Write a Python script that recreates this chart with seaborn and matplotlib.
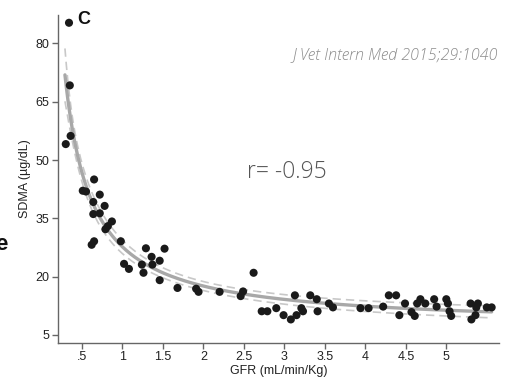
import numpy as np
import pandas as pd
import matplotlib
matplotlib.use('Agg')
import matplotlib.pyplot as plt
import seaborn as sns

# GFR (mL/min/Kg) vs SDMA (ug/dL)
gfr = [0.34, 0.35, 0.36, 0.30, 0.65, 0.51, 0.55, 0.72, 0.64, 0.78, 0.64, 0.72,
       0.87, 0.82, 0.79, 0.65, 0.62, 0.98,
       1.29, 1.52, 1.36, 1.46, 1.37, 1.24, 1.02, 1.08, 1.26, 1.46, 1.68, 1.91,
       1.94, 2.20, 2.49, 2.46, 2.62,
       2.72, 2.79, 2.90, 2.99, 3.08, 3.15, 3.13, 3.21, 3.23, 3.32, 3.40, 3.41,
       3.55, 3.60, 3.94, 4.04,
       4.22, 4.29, 4.38, 4.42, 4.49, 4.57, 4.61, 4.64, 4.68, 4.74, 4.85, 4.88,
       5.00, 5.02, 5.04, 5.06, 5.30, 5.31, 5.36, 5.39, 5.37, 5.50, 5.56]
sdma = [85.3, 69.2, 56.2, 54.1, 45.0, 42.1, 41.9, 41.1, 39.2, 38.2, 36.1, 36.3,
        34.2, 33.0, 32.2, 29.1, 28.2, 29.1,
        27.3, 27.2, 25.1, 24.1, 23.1, 23.1, 23.3, 22.0, 21.0, 19.1, 17.1, 16.9,
        16.1, 16.1, 16.2, 15.0, 21.0,
        11.1, 11.1, 11.9, 10.1, 9.0, 10.1, 15.2, 11.9, 11.1, 15.2, 14.2, 11.1,
        13.1, 12.1, 11.9, 11.9,
        12.3, 15.2, 15.2, 10.1, 13.1, 10.9, 9.9, 13.1, 14.2, 13.1, 14.2, 12.3,
        14.2, 13.1, 11.1, 9.9, 13.1, 9.0, 10.1, 13.1, 12.1, 12.1, 12.1]

xticks = [0.5, 1, 1.5, 2, 2.5, 3, 3.5, 4, 4.5, 5]
xticklabels = ['.5', '1', '1.5', '2', '2.5', '3', '3.5', '4', '4.5', '5']
yticks = [5, 20, 35, 50, 65, 80]

df = pd.DataFrame({'gfr': gfr, 'sdma': sdma})

# fractional polynomial fit (powers -1, -2) with 95% CI of the mean
x = df['gfr'].values
y = df['sdma'].values
def design(v):
    return np.column_stack([np.ones_like(v), 1.0 / v, 1.0 / v ** 2])
X = design(x)
beta, res, _, _ = np.linalg.lstsq(X, y, rcond=None)
n, k = X.shape
s2 = np.sum((y - X @ beta) ** 2) / (n - k)
cov = s2 * np.linalg.inv(X.T @ X)
xg = np.linspace(0.29, x.max(), 300)
Xg = design(xg)
pred = Xg @ beta
se = np.sqrt(np.einsum('ij,jk,ik->i', Xg, cov, Xg))
fit = pd.DataFrame({'gfr': xg, 'fit': pred, 'lo': pred - 1.99 * se, 'hi': pred + 1.99 * se})

sns.set_style('white')
plt.rcParams['font.family'] = ['Liberation Sans', 'DejaVu Sans']

fig = plt.figure(figsize=(5.1, 3.79), dpi=100)
ax = fig.add_axes([0.1137, 0.095, 0.8643, 0.865])

sns.lineplot(data=fit, x='gfr', y='hi', ax=ax, color='#c8c8c8', lw=1.2, ls=(0, (5, 3)))
sns.lineplot(data=fit, x='gfr', y='lo', ax=ax, color='#c8c8c8', lw=1.2, ls=(0, (5, 3)))
sns.lineplot(data=fit, x='gfr', y='fit', ax=ax, color='#a8a8a8', lw=2.4)
sns.scatterplot(data=df, x='gfr', y='sdma', ax=ax, color='#1a1a1a', s=34,
                edgecolor='none', zorder=5)

ax.set_xlim(0.204, 5.648)
ax.set_ylim(2.94, 87.26)
ax.set_xticks(xticks)
ax.set_xticklabels(xticklabels)
ax.set_yticks(yticks)
ax.tick_params(axis='both', direction='out', length=4, width=1, color='#666666',
               labelsize=9, labelcolor='#222222', pad=2,
               bottom=True, left=True)
for side in ['top', 'right']:
    ax.spines[side].set_visible(False)
for side in ['left', 'bottom']:
    ax.spines[side].set_color('#666666')
    ax.spines[side].set_linewidth(1)

ax.set_xlabel('GFR (mL/min/Kg)', fontsize=9, color='#222222', labelpad=1)
ax.set_ylabel('SDMA (\u00b5g/dL)', fontsize=9, color='#222222', labelpad=3)

fig.text(77 / 510, 1 - 19 / 379, 'C', fontsize=13, fontweight='bold',
         color='#111111', ha='left', va='center')
fig.text(498 / 510, 1 - 55 / 379, 'J Vet Intern Med 2015;29:1040', fontsize=11.5,
         style='italic', fontweight='light', color='#8c8c8c', ha='right', va='center',
         family=['Open Sans', 'DejaVu Sans'])
fig.text(247 / 510, 1 - 172 / 379, 'r= -0.95', fontsize=16.5, fontweight='light',
         color='#555555', ha='left', va='center', family=['Open Sans', 'DejaVu Sans'])
fig.text(8 / 510, 1 - 245 / 379, 'e', fontsize=16, fontweight='bold',
         color='#111111', ha='right', va='center')

fig.savefig('out.png', dpi=100)
